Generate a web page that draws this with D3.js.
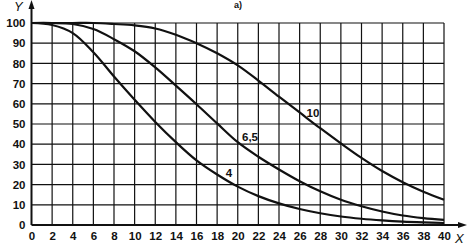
<!DOCTYPE html>
<html><head><meta charset="utf-8">
<script src="https://cdn.jsdelivr.net/npm/d3@7"></script>
<style>body{margin:0;background:#fff}svg{display:block}text{font-family:"Liberation Sans",Arial,sans-serif;fill:#111}</style>
</head><body><svg id="c" width="472" height="246"></svg>
<script>
const xTicks = d3.range(0, 41, 2);
const yTicks = d3.range(0, 101, 10);
const xs = [0, 2, 4, 6, 8, 10, 12, 14, 16, 18, 20, 22, 24, 26, 28, 30, 32, 34, 36, 38, 40];
const curve4 = [100, 99, 95, 85.5, 73.5, 62, 51, 41, 32, 25, 19, 14.3, 10.7, 7.9, 5.8, 4.2, 3.1, 2.3, 1.7, 1.3, 1];
const curve65 = [100, 100, 99.5, 97, 92, 86, 78, 69, 59.8, 50.3, 41, 33.8, 27.5, 21.7, 16.7, 12.5, 9.3, 6.7, 4.7, 3.4, 2.5];
const curve10 = [100, 100, 100, 100, 99.5, 98.8, 97.3, 94.2, 90, 85, 79, 71.5, 63.5, 55.7, 47.9, 40.4, 33.2, 26.7, 21.2, 16.5, 12.5];
const series = [
  {name: "4", values: curve4, lx: 229, ly: 177},
  {name: "6,5", values: curve65, lx: 250, ly: 141},
  {name: "10", values: curve10, lx: 313, ly: 117}
];
const svg = d3.select("#c");
const x = d3.scaleLinear().domain([0, 40]).range([31.5, 444]);
const y = d3.scaleLinear().domain([0, 100]).range([225, 23]);
const g = svg.append("g");
g.selectAll(".vg").data(xTicks.slice(1)).join("line")
  .attr("x1", d => x(d)).attr("x2", d => x(d)).attr("y1", y(0)).attr("y2", y(100))
  .attr("stroke", "#111").attr("stroke-width", 1.2);
g.selectAll(".hg").data(yTicks.slice(1)).join("line")
  .attr("x1", x(0)).attr("x2", x(40)).attr("y1", d => y(d)).attr("y2", d => y(d))
  .attr("stroke", "#111").attr("stroke-width", 1.2);
const xAxis = d3.axisBottom(x).tickValues(xTicks).tickSize(0).tickPadding(7);
const ax = svg.append("g").attr("transform", `translate(0,${y(0)})`).call(xAxis);
ax.select(".domain").remove();
ax.selectAll("text").attr("font-size", 11.5).attr("font-weight", "bold").style("fill", "#111");
const yAxis = d3.axisLeft(y).tickValues(yTicks).tickSize(0).tickPadding(6);
const ay = svg.append("g").attr("transform", `translate(${x(0)},0)`).call(yAxis);
ay.select(".domain").remove();
ay.selectAll("text").attr("font-size", 11.5).attr("font-weight", "bold").style("fill", "#111");
svg.append("line").attr("x1", x(0)).attr("x2", 462).attr("y1", y(0)).attr("y2", y(0)).attr("stroke", "#111").attr("stroke-width", 2);
svg.append("path").attr("d", `M467,${y(0)} L458,${y(0)-3} L458,${y(0)+3} Z`).attr("fill", "#111");
svg.append("line").attr("x1", x(0)).attr("x2", x(0)).attr("y1", y(0)).attr("y2", 6).attr("stroke", "#111").attr("stroke-width", 2);
svg.append("path").attr("d", `M${x(0)},0 L${x(0)-3},9 L${x(0)+3},9 Z`).attr("fill", "#111");
svg.append("text").attr("x", 14).attr("y", 11).attr("font-size", 13).attr("font-style", "italic").text("Y");
svg.append("text").attr("x", 455).attr("y", 243).attr("font-size", 13).attr("font-style", "italic").text("X");
svg.append("text").attr("x", 234).attr("y", 8).attr("font-size", 9).attr("font-weight", "bold").text("a)");
const line = d3.line().x((d, i) => x(xs[i])).y(d => y(d)).curve(d3.curveCatmullRom);
svg.selectAll(".crv").data(series).join("path")
  .attr("d", d => line(d.values)).attr("fill", "none").attr("stroke", "#111").attr("stroke-width", 2.2);
svg.selectAll(".lbl").data(series).join("text")
  .attr("x", d => d.lx).attr("y", d => d.ly).attr("text-anchor", "middle")
  .attr("font-size", 11.5).attr("font-weight", "bold").text(d => d.name);
</script></body></html>
